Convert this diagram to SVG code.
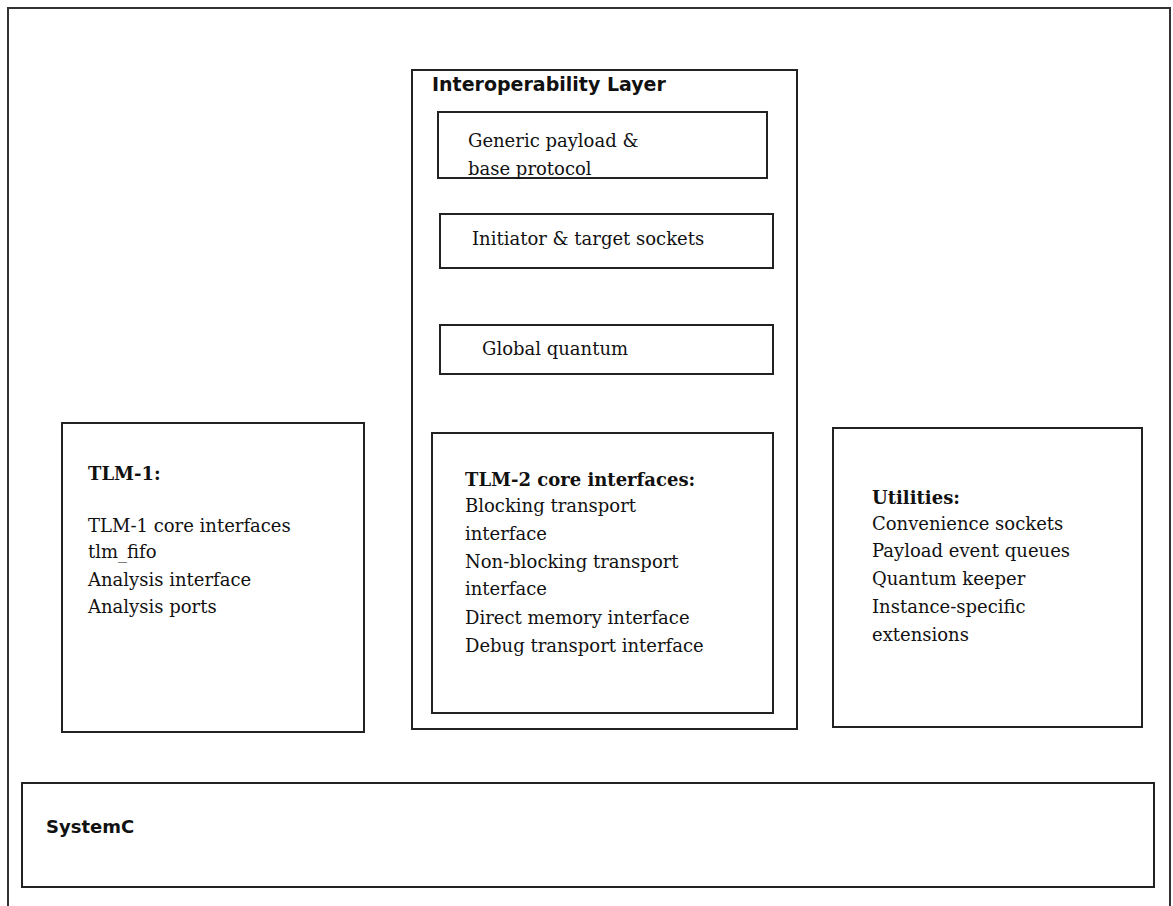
<svg xmlns="http://www.w3.org/2000/svg" width="1173" height="906" viewBox="0 0 1173 906">
<style>
.box{fill:#fff;stroke:#222;stroke-width:2}
.s{font-family:"DejaVu Serif","Liberation Serif",serif;font-size:18px;fill:#111}
.sb{font-family:"DejaVu Serif","Liberation Serif",serif;font-size:18px;font-weight:bold;fill:#111}
.h{font-family:"DejaVu Sans","Liberation Sans",sans-serif;font-weight:bold;fill:#111}
</style>
<rect width="1173" height="906" fill="#fff"/>
<path d="M8,910 V8 H1170 V910" fill="none" stroke="#333" stroke-width="2"/>
<g id="interop">
<rect class="box" x="412" y="70" width="385" height="659"/>
<text class="h" x="432" y="91" font-size="19">Interoperability Layer</text>
</g>
<g id="generic-payload">
<rect class="box" x="438" y="112" width="329" height="66"/>
<text class="s" x="468" y="147">Generic payload &amp;</text>
<text class="s" x="468" y="175">base protocol</text>
</g>
<g id="sockets">
<rect class="box" x="440" y="214" width="333" height="54"/>
<text class="s" x="472" y="245">Initiator &amp; target sockets</text>
</g>
<g id="global-quantum">
<rect class="box" x="440" y="325" width="333" height="49"/>
<text class="s" x="482" y="355">Global quantum</text>
</g>
<g id="tlm2">
<rect class="box" x="432" y="433" width="341" height="280"/>
<text class="sb" x="465" y="486">TLM-2 core interfaces:</text>
<text class="s" x="465" y="512">Blocking transport</text>
<text class="s" x="465" y="540">interface</text>
<text class="s" x="465" y="568">Non-blocking transport</text>
<text class="s" x="465" y="595">interface</text>
<text class="s" x="465" y="624">Direct memory interface</text>
<text class="s" x="465" y="652">Debug transport interface</text>
</g>
<g id="tlm1">
<rect class="box" x="62" y="423" width="302" height="309"/>
<text class="sb" x="88" y="480">TLM-1:</text>
<text class="s" x="88" y="532">TLM-1 core interfaces</text>
<text class="s" x="88" y="558">tlm_fifo</text>
<text class="s" x="88" y="586">Analysis interface</text>
<text class="s" x="88" y="613">Analysis ports</text>
</g>
<g id="utilities">
<rect class="box" x="833" y="428" width="309" height="299"/>
<text class="sb" x="872" y="504">Utilities:</text>
<text class="s" x="872" y="530">Convenience sockets</text>
<text class="s" x="872" y="557">Payload event queues</text>
<text class="s" x="872" y="585">Quantum keeper</text>
<text class="s" x="872" y="613">Instance-specific</text>
<text class="s" x="872" y="641">extensions</text>
</g>
<g id="systemc">
<rect class="box" x="22" y="783" width="1132" height="104"/>
<text class="h" x="46" y="833" font-size="18">SystemC</text>
</g>
<g id="connectors"></g>
</svg>
